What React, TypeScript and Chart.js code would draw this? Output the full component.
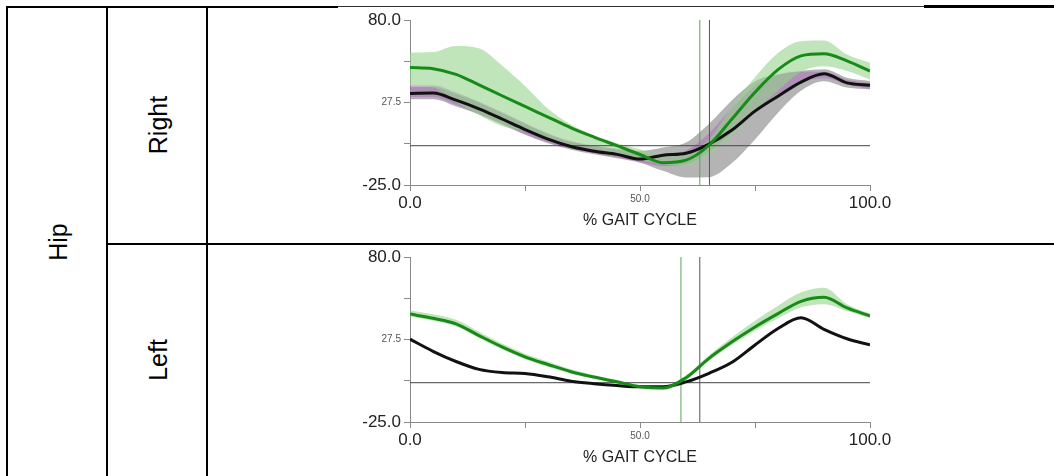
import { useEffect, useRef } from 'react';
import { Chart, registerables } from 'chart.js';

Chart.register(...registerables);

const FONT = '"Liberation Sans", Arial, Helvetica, sans-serif';

// Percent of gait cycle at which every curve is sampled
const GAIT_PCT = [0, 5, 10, 15, 20, 25, 30, 35, 40, 45, 50, 55, 60, 65, 70, 75, 80, 85, 90, 95, 100];

// Axis ticks and their labels
const Y_TICKS = [-25, 1.25, 27.5, 53.75, 80];
const Y_TICK_LABELS = ['-25.0', '', '27.5', '', '80.0'];
const X_TICKS = [0, 25, 50, 75, 100];
const X_TICK_LABELS = ['0.0', '', '50.0', '', '100.0'];
const SMALL_TICK_LABELS = ['27.5', '50.0'];

// Right hip — green session mean and band
const RIGHT_GREEN = [49.7, 49, 45.4, 38.7, 31.8, 25, 18.2, 11.4, 5.5, 0, -5.6, -10.8, -9.2, 0.3, 17, 34, 48.4, 57.2, 58.5, 54, 47.5];
const RIGHT_GREEN_UPPER = [59.2, 59.6, 63.5, 62, 51, 38, 23.6, 13.5, 6.5, 1.5, -2.3, -6.5, -5, 4, 25, 43.5, 59, 66.5, 67, 58, 52.8];
const RIGHT_GREEN_LOWER = [38, 37, 28, 19.5, 12.5, 9, 4.2, 0.5, -2, -5, -8.8, -11.8, -12.9, -5.5, 6.5, 22, 35, 47, 50.5, 47.5, 42.2];
// Right hip — black session mean, grey band and violet band
const RIGHT_BLACK = [33.3, 33.5, 29, 23.5, 17, 10.3, 4.2, -0.5, -3.5, -5.5, -8.5, -6, -4.8, 1, 10, 22, 31.5, 40.5, 45.8, 40, 38.4];
const RIGHT_GREY_UPPER = [37.6, 37.5, 33, 27.5, 21, 14, 7.5, 2.5, -0.2, -2, -3.4, -1.2, 2, 14, 29, 41, 45.4, 47.5, 48.6, 43.3, 41.2];
const RIGHT_GREY_LOWER = [29.5, 29.5, 25, 20, 13.5, 7, 1.5, -2.5, -5.5, -8, -10.8, -16, -20.3, -20, -11, 4, 21, 35, 41, 37, 35.9];
const RIGHT_VIOLET_UPPER = [38.5, 38.5, 34, 28, 21.5, 14.5, 8, 3, 0, -2.5, -5, -6, -3, 8, 24, 38, 45, 47, 47, 42, 40];
const RIGHT_VIOLET_LOWER = [31, 31, 26, 20, 14, 7.5, 2, -2, -5, -7.5, -10.5, -13, -12, -4, 8, 22, 33, 40, 43, 39, 36];
// Right hip — foot-off events [green, black]
const RIGHT_EVENTS = [63.0, 65.1];

// Left hip
const LEFT_GREEN = [43.7, 41, 37.5, 30, 22.8, 16.5, 11.6, 7, 3.6, 0.6, -2.5, -3.4, 3.2, 15.5, 26, 35.5, 44, 51.8, 54.4, 47.6, 42.5];
const LEFT_GREEN_UPPER = [46, 43.5, 40, 32.5, 25, 18.5, 13.5, 8.5, 4.8, 1.6, -1.5, -2.4, 4.7, 17.5, 29, 39.5, 49, 57.5, 60.5, 50, 44];
const LEFT_GREEN_LOWER = [42, 39.5, 36, 28.5, 21.3, 15, 10.2, 5.8, 2.5, -0.5, -3.6, -4.5, 1.8, 14, 24, 33, 41, 48, 50, 45.6, 41];
const LEFT_BLACK = [27.7, 20, 13.5, 8.5, 6.5, 5.9, 3.8, 1, -0.6, -1.8, -2.6, -2.6, 0.5, 6, 13, 24, 34.5, 41.4, 34, 28, 24.1];
const LEFT_EVENTS = [58.9, 63.0];

const GREEN = '#178a17';
const BLACK = '#111111';
const AXIS = '#8a8a8a';

const pts = (values: number[]) => GAIT_PCT.map((x, i) => ({ x, y: values[i] }));

// Chart.js paints dataset 0 last, so the arrays below list the topmost layer first.
const band = (upper: number[], lower: number[], color: string) => [
  {
    data: pts(upper),
    borderWidth: 0,
    borderColor: 'rgba(0,0,0,0)',
    backgroundColor: color,
    pointRadius: 0,
    fill: '+1',
    cubicInterpolationMode: 'monotone',
  },
  {
    data: pts(lower),
    borderWidth: 0,
    borderColor: 'rgba(0,0,0,0)',
    pointRadius: 0,
    fill: false,
    cubicInterpolationMode: 'monotone',
  },
];

const curve = (values: number[], color: string) => ({
  data: pts(values),
  borderColor: color,
  borderWidth: 3,
  pointRadius: 0,
  fill: false,
  cubicInterpolationMode: 'monotone',
});

const vline = (x: number, color: string) => ({
  data: [
    { x, y: Y_TICKS[0] },
    { x, y: Y_TICKS[Y_TICKS.length - 1] },
  ],
  borderColor: color,
  borderWidth: 1,
  pointRadius: 0,
  fill: false,
});

const zeroLine = () => ({
  data: [
    { x: X_TICKS[0], y: 0 },
    { x: X_TICKS[X_TICKS.length - 1], y: 0 },
  ],
  borderColor: '#444',
  borderWidth: 1,
  pointRadius: 0,
  fill: false,
});

const tickFont = (ctx: any) =>
  SMALL_TICK_LABELS.includes(ctx.tick?.label)
    ? { family: FONT, size: 10 }
    : { family: FONT, size: 17 };
const tickColor = (ctx: any) => (SMALL_TICK_LABELS.includes(ctx.tick?.label) ? '#555' : '#222');

const makeOptions = () => ({
  animation: false,
  responsive: false,
  events: [],
  layout: { padding: { left: 10, right: 60, top: 20, bottom: 0 } },
  plugins: { legend: { display: false }, tooltip: { enabled: false } },
  scales: {
    x: {
      type: 'linear',
      min: X_TICKS[0],
      max: X_TICKS[X_TICKS.length - 1],
      afterBuildTicks: (s: any) => {
        s.ticks = X_TICKS.map((value) => ({ value }));
      },
      afterFit: (s: any) => {
        s.height = 51;
      },
      grid: { drawOnChartArea: false, drawTicks: true, tickLength: 6, color: AXIS },
      border: { display: true, color: AXIS, width: 1 },
      ticks: {
        autoSkip: false,
        maxRotation: 0,
        padding: 2,
        callback: (_v: any, i: number) => X_TICK_LABELS[i],
        font: tickFont,
        color: tickColor,
      },
      title: {
        display: true,
        text: '% GAIT CYCLE',
        color: '#222',
        font: { family: FONT, size: 16 },
        padding: { top: 0, bottom: 6 },
      },
    },
    y: {
      type: 'linear',
      min: Y_TICKS[0],
      max: Y_TICKS[Y_TICKS.length - 1],
      afterBuildTicks: (s: any) => {
        s.ticks = Y_TICKS.map((value) => ({ value }));
      },
      afterFit: (s: any) => {
        s.width = 70;
      },
      grid: { drawOnChartArea: false, drawTicks: true, tickLength: 6, color: AXIS },
      border: { display: true, color: AXIS, width: 1 },
      ticks: {
        autoSkip: false,
        padding: 3,
        callback: (_v: any, i: number) => Y_TICK_LABELS[i],
        font: tickFont,
        color: tickColor,
      },
    },
  },
});

const rightDatasets = () => [
  curve(RIGHT_GREEN, GREEN),
  curve(RIGHT_BLACK, BLACK),
  vline(RIGHT_EVENTS[0], '#5aa25a'),
  vline(RIGHT_EVENTS[1], '#555'),
  zeroLine(),
  ...band(RIGHT_GREEN_UPPER, RIGHT_GREEN_LOWER, 'rgba(150,212,140,0.6)'),
  ...band(RIGHT_VIOLET_UPPER, RIGHT_VIOLET_LOWER, 'rgba(170,100,190,0.45)'),
  ...band(RIGHT_GREY_UPPER, RIGHT_GREY_LOWER, 'rgba(130,130,130,0.6)'),
];

const leftDatasets = () => [
  curve(LEFT_GREEN, GREEN),
  curve(LEFT_BLACK, BLACK),
  vline(LEFT_EVENTS[0], '#5aa25a'),
  vline(LEFT_EVENTS[1], '#555'),
  zeroLine(),
  ...band(LEFT_GREEN_UPPER, LEFT_GREEN_LOWER, 'rgba(150,212,140,0.6)'),
];

function GaitChart({ top, build }: { top: number; build: () => any[] }) {
  const ref = useRef<HTMLCanvasElement>(null);
  useEffect(() => {
    const chart = new Chart(ref.current as HTMLCanvasElement, {
      type: 'line',
      data: { datasets: build() },
      options: makeOptions() as any,
    });
    return () => chart.destroy();
  }, [build]);
  return (
    <canvas
      ref={ref}
      width={600}
      height={236}
      style={{ position: 'absolute', left: 330, top, width: 600, height: 236 }}
    />
  );
}

const line = (left: number, top: number, width: number, height: number, bg = '#000') => (
  <div style={{ position: 'absolute', left, top, width, height, background: bg }} />
);

const RotatedLabel = ({ text, cx, cy }: { text: string; cx: number; cy: number }) => (
  <div
    style={{
      position: 'absolute',
      left: cx,
      top: cy,
      transform: 'translate(-50%, -50%) rotate(-90deg)',
      fontFamily: FONT,
      fontSize: 25,
      lineHeight: 1,
      whiteSpace: 'nowrap',
      color: '#000',
    }}
  >
    {text}
  </div>
);

export default function App() {
  return (
    <div
      style={{
        position: 'absolute',
        left: 0,
        top: 0,
        width: 1054,
        height: 476,
        overflow: 'hidden',
        background: '#fff',
      }}
    >
      {line(6, 6, 332, 2)}
      {line(338, 6, 586, 1, '#333')}
      {line(924, 5, 130, 3)}
      {line(6, 6, 2, 470)}
      {line(106, 6, 2, 470)}
      {line(206, 6, 2, 470)}
      {line(106, 243, 948, 2)}
      <RotatedLabel text="Hip" cx={58} cy={242} />
      <RotatedLabel text="Right" cx={158} cy={125} />
      <RotatedLabel text="Left" cx={158} cy={360} />
      <GaitChart top={0} build={rightDatasets} />
      <GaitChart top={237} build={leftDatasets} />
    </div>
  );
}
